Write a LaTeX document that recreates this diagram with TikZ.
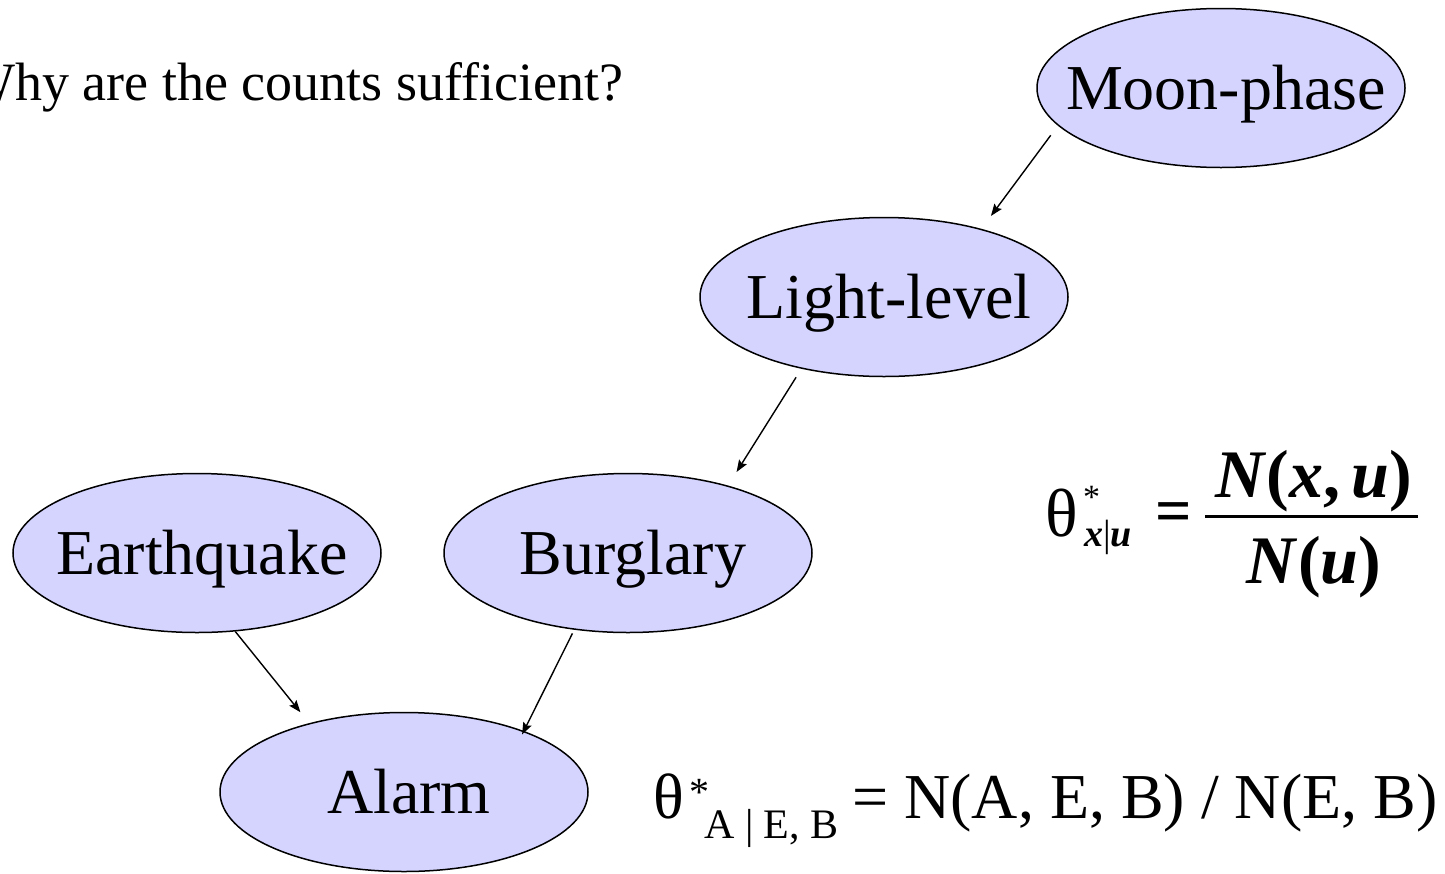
\documentclass[tikz,border=0pt]{standalone}
\usepackage{fontspec}
\setmainfont{Liberation Serif}
\usetikzlibrary{arrows.meta,shapes.geometric}
\definecolor{nodefill}{RGB}{212,212,255}
\newcommand{\bvar}[1]{\textbf{\textit{#1}}}
\newcommand{\varname}[1]{\makebox[0pt]{\kern10pt #1}}

\begin{document}
\begin{tikzpicture}[x=1pt, y=-1pt]
        \tikzset{varnode/.style={ellipse, draw, fill=nodefill, line width=1.5pt,
            minimum width=368pt, minimum height=159pt, inner sep=0pt,
            text height=42pt, text depth=0pt, font=\fontsize{64}{76}\selectfont}}
        \tikzset{dep/.style={-{Stealth[length=12pt,width=9pt,inset=2pt]}, line width=1.4pt}}
        \tikzset{eqtext/.style={anchor=base west, inner sep=0pt}}
        \useasboundingbox (0,0) rectangle (1445,873);
        \node[eqtext, font=\fontsize{54}{64}\selectfont] (question) at (-36,100) {Why are the counts sufficient?};
        % network
        \node[varnode] (moon) at (1221,88) {\varname{Moon-phase}};
        \node[varnode] (light) at (884,297) {\varname{Light-level}};
        \node[varnode] (quake) at (197,553) {\varname{Earthquake}};
        \node[varnode] (burglary) at (628,553) {\varname{Burglary}};
        \node[varnode] (alarm) at (404,792) {\varname{Alarm}};
        \path (moon.193.5) edge [dep, shorten <=12pt, shorten >=16pt] (light.35.5);
        \path (light.221.3) edge [dep, shorten <=10pt, shorten >=16pt] (burglary.34.9);
        \path (quake.296.7) edge [dep, shorten >=14pt] (alarm.144.2);
        \path (burglary.235.2) edge [dep, shorten <=4pt, shorten >=-4pt] (alarm.27.2);
        % estimate for one node
        \node[eqtext, font=\fontsize{68}{80}\selectfont] (thetaone) at (1045,536) {θ};
        \node[eqtext, font=\fontsize{34}{40}\selectfont] (starone) at (1083,508) {*};
        \node[eqtext, font=\fontsize{38}{44}\selectfont] (subone) at (1084,546) {\bvar{x}|\bvar{u}};
        \node[eqtext, font=\fontsize{64}{76}\selectfont\bfseries] (eqone) at (1155,532) {=};
        \node[anchor=base, inner sep=0pt, font=\fontsize{68}{80}\selectfont] (num) at (1314,497) {\bvar{N}\textbf{(}\bvar{x}\textbf{,}\,\bvar{u}\textbf{)}};
        \draw[line width=3pt] (1205,516) -- (1418,516);
        \node[anchor=base, inner sep=0pt, font=\fontsize{68}{80}\selectfont] (den) at (1314,583) {\bvar{N}\textbf{(}\bvar{u}\textbf{)}};
        % estimate for the alarm
        \node[eqtext, font=\fontsize{64}{76}\selectfont] (thetatwo) at (653,818) {θ};
        \node[eqtext, font=\fontsize{40}{48}\selectfont] (startwo) at (689,805) {*};
        \node[eqtext, font=\fontsize{42}{50}\selectfont] (subtwo) at (704,838) {A | E, B};
        \node[eqtext, font=\fontsize{64}{76}\selectfont] (rhstwo) at (852,818) {= N(A, E, B) / N(E, B)};
\end{tikzpicture}
\end{document}
